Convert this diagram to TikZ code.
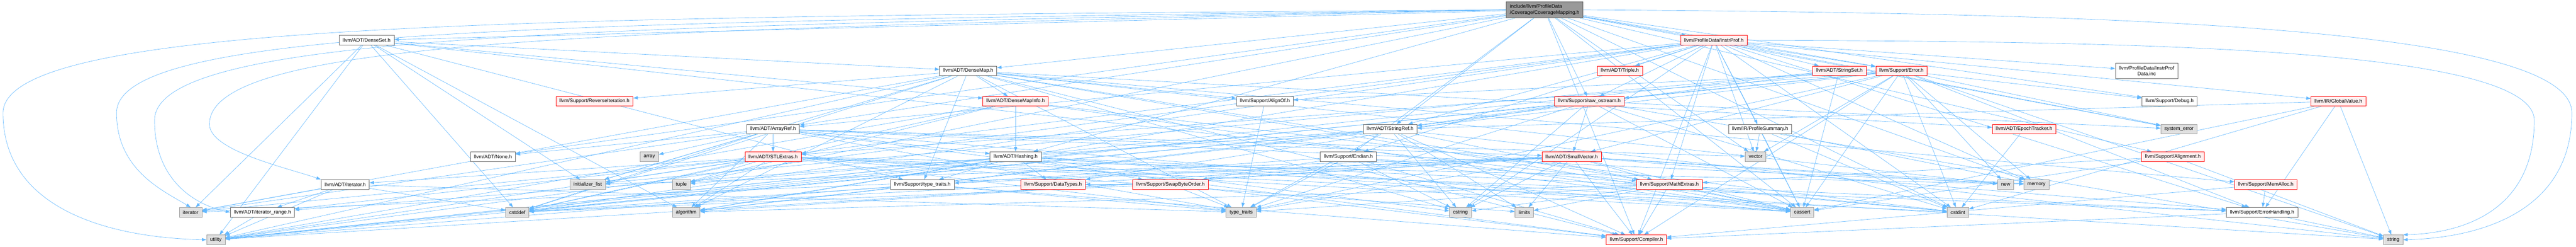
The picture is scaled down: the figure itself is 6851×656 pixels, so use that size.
\documentclass[tikz,border=0pt]{standalone}
\usepackage{fontspec}
\setmainfont{Liberation Sans}
\definecolor{edgeblue}{RGB}{99, 184, 255}
\definecolor{boxgray}{RGB}{102, 102, 102}
\definecolor{rootgray}{RGB}{153, 153, 153}
\definecolor{sysfill}{RGB}{224, 224, 224}
\definecolor{truncred}{RGB}{255, 0, 0}
\definecolor{truncfill}{RGB}{255, 240, 240}
\usetikzlibrary{arrows.meta, backgrounds}

\begin{document}
\begin{tikzpicture}[x=1pt, y=-1pt,
  file/.style={draw=boxgray, fill=white, line width=1pt, rectangle, minimum height=25.5pt,
    inner xsep=9.5pt, inner ysep=0pt, font=\fontsize{13.3}{15.3}\selectfont},
  trunc/.style={file, draw=truncred, fill=truncfill},
  sysfile/.style={file, draw=rootgray, fill=sysfill},
  rootfile/.style={file, fill=rootgray, align=left, minimum height=42pt},
  edge/.style={draw=edgeblue, line width=0.9pt, -{Triangle[length=12pt, width=8.5pt]}}]
  \useasboundingbox (0, 0) rectangle (6851, 656);

  % root
  \node[rootfile] (root) at (4108, 26) {include/llvm/ProfileData\\/Coverage/CoverageMapping.h};

  % headers, row by row
  \node[file] (denseset) at (975, 107) {llvm/ADT/DenseSet.h};
  \node[trunc] (instrprof) at (4558, 107) {llvm/ProfileData/InstrProf.h};

  \node[file] (densemap) at (2575, 188) {llvm/ADT/DenseMap.h};
  \node[trunc] (triple) at (4308, 188) {llvm/ADT/Triple.h};
  \node[trunc] (stringset) at (4892, 188) {llvm/ADT/StringSet.h};
  \node[trunc] (error) at (5057, 188) {llvm/Support/Error.h};
  \node[file, align=center, minimum height=42pt] (instrprofdata) at (5709, 188) {llvm/ProfileData/InstrProf\\Data.inc};

  \node[trunc] (reverseiter) at (1581, 269) {llvm/Support/ReverseIteration.h};
  \node[trunc] (densemapinfo) at (2701, 269) {llvm/ADT/DenseMapInfo.h};
  \node[file] (alignof) at (3364, 269) {llvm/Support/AlignOf.h};
  \node[trunc] (rawostream) at (4227, 269) {llvm/Support/raw\_ostream.h};
  \node[file] (debug) at (5770, 269) {llvm/Support/Debug.h};
  \node[trunc] (globalvalue) at (6219, 269) {llvm/IR/GlobalValue.h};

  \node[file] (arrayref) at (2056, 343) {llvm/ADT/ArrayRef.h};
  \node[file] (stringref) at (3697, 343) {llvm/ADT/StringRef.h};
  \node[file] (profilesummary) at (4681, 343) {llvm/IR/ProfileSummary.h};
  \node[trunc] (epochtracker) at (5383, 343) {llvm/ADT/EpochTracker.h};
  \node[sysfile] (systemerror) at (5795, 343) {system\_error};

  \node[file] (none) at (1311, 416) {llvm/ADT/None.h};
  \node[sysfile] (array) at (1727, 416) {array};
  \node[trunc] (stlextras) at (2056, 416) {llvm/ADT/STLExtras.h};
  \node[file] (hashing) at (2701, 416) {llvm/ADT/Hashing.h};
  \node[file] (endian) at (3586, 416) {llvm/Support/Endian.h};
  \node[trunc] (smallvector) at (4180, 416) {llvm/ADT/SmallVector.h};
  \node[sysfile] (vector) at (4669, 416) {vector};
  \node[trunc] (alignment) at (5779, 416) {llvm/Support/Alignment.h};

  \node[file] (iteratorh) at (918, 490) {llvm/ADT/iterator.h};
  \node[sysfile] (initlist) at (1563, 490) {initializer\_list};
  \node[sysfile] (tuple) at (1812, 490) {tuple};
  \node[file] (typetraitsh) at (2453, 490) {llvm/Support/type\_traits.h};
  \node[trunc] (datatypes) at (2801, 490) {llvm/Support/DataTypes.h};
  \node[trunc] (swapbyteorder) at (3113, 490) {llvm/Support/SwapByteOrder.h};
  \node[trunc] (mathextras) at (4440, 490) {llvm/Support/MathExtras.h};
  \node[sysfile] (new) at (5334, 490) {new};
  \node[sysfile] (memory) at (5416, 490) {memory};
  \node[trunc] (memalloc) at (6026, 490) {llvm/Support/MemAlloc.h};

  \node[sysfile] (iterator) at (507, 564) {iterator};
  \node[file] (iterrange) at (698, 564) {llvm/ADT/iterator\_range.h};
  \node[sysfile] (cstddef) at (1376, 564) {cstddef};
  \node[sysfile] (algorithm) at (1825, 564) {algorithm};
  \node[sysfile] (typetraits) at (3301, 564) {type\_traits};
  \node[sysfile] (cstring) at (3884, 564) {cstring};
  \node[sysfile] (limits) at (4054, 564) {limits};
  \node[sysfile] (cassert) at (4793, 564) {cassert};
  \node[sysfile] (cstdint) at (5207, 564) {cstdint};
  \node[file] (errorhandling) at (6016, 564) {llvm/Support/ErrorHandling.h};

  \node[sysfile] (utility) at (574, 637) {utility};
  \node[trunc] (compiler) at (4352, 637) {llvm/Support/Compiler.h};
  \node[sysfile] (string) at (6365, 637) {string};

  \begin{pgfonlayer}{background}
  % includes of the root
  \foreach \dst in {denseset, densemap, arrayref, hashing, none, stringref, endian, tuple, instrprof,
      rawostream, error, compiler, cassert, cstdint, memory, vector, debug, systemerror, alignment}
    \draw[edge] (root) -- (\dst);
  \draw[edge] (root.west) .. controls (1500, 45) and (10, 50) .. (8, 300)
    .. controls (8, 560) and (300, 632) .. (utility.west);
  \draw[edge] (root.west) .. controls (1500, 60) and (310, 70) .. (310, 300)
    .. controls (310, 450) and (430, 505) .. (iterator.north);
  \draw[edge] (root.west) .. controls (1600, 70) and (411, 85) .. (411, 320)
    .. controls (411, 480) and (520, 545) .. (iterrange.west);
  \draw[edge] (root.west) .. controls (1700, 80) and (557, 95) .. (557, 330)
    .. controls (557, 400) and (760, 445) .. (iteratorh.north west);
  \draw[edge] (root.east) .. controls (5500, 35) and (6840, 60) .. (6840, 300)
    .. controls (6840, 560) and (6600, 632) .. (string.east);

  % InstrProf.h
  \foreach \dst in {arrayref, stlextras, stringref, stringset, triple, globalvalue, profilesummary,
      instrprofdata, compiler, endian, error, errorhandling, mathextras, rawostream, algorithm,
      cassert, cstddef, cstdint, cstring, memory, systemerror, utility, vector}
    \draw[edge] (instrprof) -- (\dst);
  \draw[edge] (instrprof.east) .. controls (5600, 110) and (6740, 120) .. (6740, 320)
    .. controls (6740, 560) and (6550, 620) .. (string.north east);

  % DenseSet.h and DenseMap.h
  \foreach \dst in {densemap, densemapinfo, mathextras, typetraitsh, algorithm, cstddef, initlist,
      iterator, utility}
    \draw[edge] (denseset) -- (\dst);
  \foreach \dst in {densemapinfo, epochtracker, alignof, compiler, mathextras, memalloc, reverseiter,
      typetraitsh, algorithm, cassert, cstddef, cstring, initlist, iterator, new, typetraits, utility}
    \draw[edge] (densemap) -- (\dst);
  \foreach \dst in {hashing, cassert, cstddef, cstdint, tuple, utility}
    \draw[edge] (densemapinfo) -- (\dst);

  % ArrayRef.h and STLExtras.h
  \foreach \dst in {hashing, none, stlextras, smallvector, compiler, algorithm, array, cassert, cstddef,
      initlist, iterator, memory, typetraits, vector}
    \draw[edge] (arrayref) -- (\dst);
  \foreach \dst in {iteratorh, iterrange, errorhandling, algorithm, cassert, cstddef, cstdint, initlist,
      iterator, limits, memory, tuple, typetraits, utility}
    \draw[edge] (stlextras) -- (\dst);

  % Hashing.h, StringRef.h, Endian.h
  \foreach \dst in {datatypes, errorhandling, swapbyteorder, typetraitsh, algorithm, cassert, cstring,
      string, tuple, utility}
    \draw[edge] (hashing) -- (\dst);
  \foreach \dst in {iterrange, compiler, algorithm, cassert, cstddef, cstring, limits, string,
      typetraits, utility}
    \draw[edge] (stringref) -- (\dst);
  \foreach \dst in {compiler, swapbyteorder, cassert, cstddef, cstdint, cstring, typetraits}
    \draw[edge] (endian) -- (\dst);

  % SmallVector.h, MathExtras.h, raw_ostream.h
  \foreach \dst in {compiler, errorhandling, mathextras, typetraitsh, algorithm, cassert, cstddef,
      cstring, initlist, iterator, limits, memory, new, typetraits, utility}
    \draw[edge] (smallvector) -- (\dst);
  \foreach \dst in {compiler, algorithm, cassert, cstdint, cstring, limits, typetraits}
    \draw[edge] (mathextras) -- (\dst);
  \foreach \dst in {smallvector, stringref, datatypes, cassert, cstddef, cstdint, cstring, string,
      systemerror, typetraits}
    \draw[edge] (rawostream) -- (\dst);

  % Error.h and the rest
  \foreach \dst in {stlextras, smallvector, alignof, compiler, debug, errorhandling, rawostream,
      algorithm, cassert, cstdint, memory, new, string, systemerror, typetraits, utility, vector}
    \draw[edge] (error) -- (\dst);
  \foreach \dst in {stringref, cassert, initlist, utility}
    \draw[edge] (stringset) -- (\dst);
  \foreach \dst in {stringref, errorhandling, cassert, cstdint, string}
    \draw[edge] (globalvalue) -- (\dst);
  \foreach \dst in {cassert, cstdint, memory, vector}
    \draw[edge] (profilesummary) -- (\dst);
  \foreach \dst in {mathextras, cassert, string}
    \draw[edge] (alignment) -- (\dst);
  \foreach \dst in {iterrange, cstddef, iterator, typetraits, utility}
    \draw[edge] (iteratorh) -- (\dst);
  \foreach \dst in {compiler, typetraits, utility}
    \draw[edge] (typetraitsh) -- (\dst);
  \foreach \dst in {compiler, datatypes, cstddef, typetraits}
    \draw[edge] (swapbyteorder) -- (\dst);
  \draw[edge] (epochtracker) -- (cstdint);
  \draw[edge] (alignof) -- (typetraits);
  \draw[edge] (iterrange) -- (utility);
  \draw[edge] (memalloc) -- (compiler);
  \draw[edge] (memalloc) -- (errorhandling);
  \draw[edge] (errorhandling) -- (compiler);
  \draw[edge] (errorhandling) -- (string);
  \end{pgfonlayer}
\end{tikzpicture}
\end{document}
